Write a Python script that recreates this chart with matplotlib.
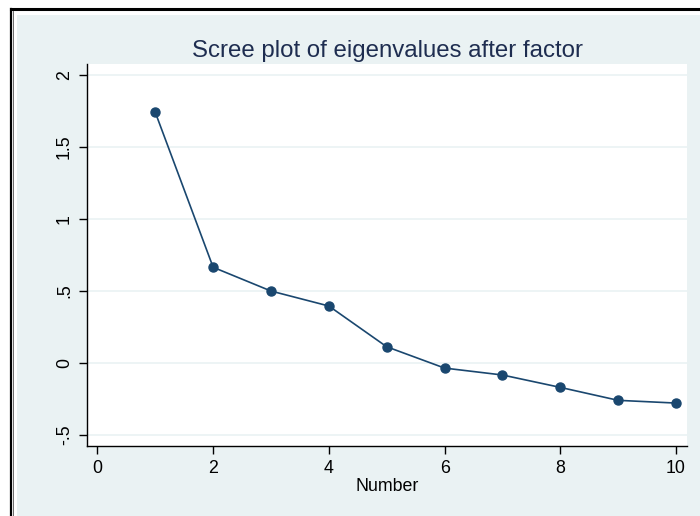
import matplotlib
matplotlib.use("Agg")
import matplotlib.pyplot as plt
from matplotlib.patches import Rectangle
from matplotlib.lines import Line2D

plt.rcParams['font.family'] = ['Liberation Sans', 'DejaVu Sans']

number = [1, 2, 3, 4, 5, 6, 7, 8, 9, 10]
eigenvalues = [1.741, 0.665, 0.500, 0.396, 0.113, -0.035, -0.083, -0.169, -0.259, -0.278]
xticks = [0, 2, 4, 6, 8, 10]
yticks = [-0.5, 0, 0.5, 1, 1.5, 2]
ytick_labels = ['-.5', '0', '.5', '1', '1.5', '2']

W, H = 700, 516
fig = plt.figure(figsize=(W / 100, H / 100), dpi=100)
fig.patch.set_facecolor('white')

bg = '#EAF2F3'
# light background region
fig.patches.append(Rectangle((17 / W, 0), 1, 1 - 14.5 / H, transform=fig.transFigure,
                             facecolor=bg, edgecolor='none', zorder=-10))
# frame lines
fig.lines.append(Line2D([10.5 / W, 1], [1 - 9 / H, 1 - 9 / H], transform=fig.transFigure,
                        color='black', lw=2.2, zorder=-5))
fig.lines.append(Line2D([10.5 / W, 10.5 / W], [0, 1 - 9 / H], transform=fig.transFigure,
                        color='black', lw=1.6, zorder=-5))
fig.lines.append(Line2D([13 / W, 13 / W], [0, 1 - 11 / H], transform=fig.transFigure,
                        color='#555555', lw=0.6, zorder=-5))

left, right, top, bottom = 87, 687, 63.5, 445.7
ax = fig.add_axes([left / W, 1 - bottom / H, (right - left) / W, (bottom - top) / H])
ax.set_zorder(5)
ax.set_facecolor('white')

ax.plot(number, eigenvalues, color='#1a476f', lw=1.2, marker='o', markersize=6.5,
        markerfacecolor='#1a476f', markeredgecolor='#1a476f', zorder=3)

ax.set_xlim(-0.18, 10.19)
ax.set_ylim(-0.574, 2.08)
ax.set_xticks(xticks)
ax.set_xticklabels([str(t) for t in xticks])
ax.set_yticks(yticks)
ax.set_yticklabels(ytick_labels, rotation=90, va='center')
ax.grid(axis='y', color=bg, lw=1.2)
ax.set_axisbelow(True)

for s in ['top', 'right']:
    ax.spines[s].set_visible(False)
for s in ['left', 'bottom']:
    ax.spines[s].set_color('black')
    ax.spines[s].set_linewidth(1.0)

ax.tick_params(axis='both', length=6, width=1.0, color='black', labelsize=12.8, labelcolor='black')
ax.tick_params(axis='y', pad=4)
ax.tick_params(axis='x', pad=4)

ax.set_xlabel('Number', fontsize=12.8, labelpad=1)
ax.set_title('Scree plot of eigenvalues after factor', fontsize=17.3, color='#1e2d50', pad=5)

fig.savefig('out.png', dpi=100, facecolor=fig.get_facecolor())
